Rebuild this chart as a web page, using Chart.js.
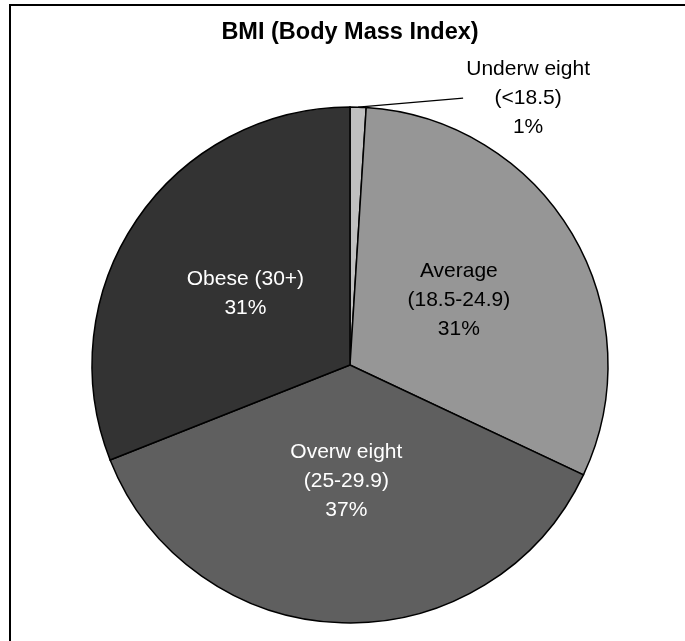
<!DOCTYPE html>
<html>
<head>
<meta charset="utf-8">
<script src="https://cdn.jsdelivr.net/npm/chart.js@4.4.1/dist/chart.umd.min.js"></script>
<style>
  html, body { margin: 0; padding: 0; background: #fff; }
  #wrap { width: 685px; height: 641px; position: relative; }
</style>
</head>
<body>
<div id="wrap"><canvas id="bmiChart" width="685" height="641"></canvas></div>
<script>
// data
const chartTitle = 'BMI (Body Mass Index)';
const categories = ['Underweight (<18.5)', 'Average (18.5-24.9)', 'Overweight (25-29.9)', 'Obese (30+)'];
const percents = [1, 31, 37, 31];
const labelNames = [['Underw eight', '(<18.5)'], ['Average', '(18.5-24.9)'], ['Overw eight', '(25-29.9)'], ['Obese (30+)']];
const sliceColors = ['#c0c0c0', '#969696', '#5f5f5f', '#333333'];
const textColors = ['#000', '#000', '#fff', '#fff'];

const FONT = '"Liberation Sans", Arial, sans-serif';

/* =========================
   FRAME + TITLE
========================= */
const framePlugin = {
  id: 'frame',
  afterDraw(chart) {
    const ctx = chart.ctx;
    ctx.save();
    ctx.strokeStyle = '#000';
    ctx.lineWidth = 2;
    ctx.strokeRect(10, 5, 800, 800);
    ctx.fillStyle = '#000';
    ctx.font = 'bold 23.5px ' + FONT;
    ctx.textAlign = 'center';
    ctx.textBaseline = 'middle';
    ctx.fillText(chartTitle, 350, 33);
    ctx.restore();
  }
};

/* =========================
   SLICE LABELS
========================= */
const radial = [1, 0.49, 0.45, 0.49];

const labelPlugin = {
  id: 'sliceLabels',
  afterDatasetsDraw(chart) {
    const ctx = chart.ctx;
    const meta = chart.getDatasetMeta(0);
    ctx.save();
    ctx.font = '21px ' + FONT;
    ctx.textAlign = 'center';
    ctx.textBaseline = 'middle';

    meta.data.forEach((arc, i) => {
      const p = arc.getProps(['x', 'y', 'startAngle', 'endAngle', 'outerRadius'], true);
      const mid = (p.startAngle + p.endAngle) / 2;
      const lines = labelNames[i].concat([percents[i] + '%']);
      const lh = 29;
      let cx, cy;

      if (i === 0) {
        // outside label with leader line
        const sx = p.x + Math.cos(mid) * p.outerRadius;
        const sy = p.y + Math.sin(mid) * p.outerRadius;
        const ex = sx + 105;
        const ey = sy - 9;
        ctx.strokeStyle = '#000';
        ctx.lineWidth = 1.5;
        ctx.beginPath();
        ctx.moveTo(sx, sy);
        ctx.lineTo(ex, ey);
        ctx.stroke();
        cx = ex + 65;
        cy = ey;
      } else {
        const r = p.outerRadius * radial[i];
        cx = p.x + Math.cos(mid) * r;
        cy = p.y + Math.sin(mid) * r;
      }

      ctx.fillStyle = textColors[i];
      const top = cy - (lines.length - 1) * lh / 2;
      lines.forEach((t, k) => ctx.fillText(t, cx, top + k * lh));
    });
    ctx.restore();
  }
};

const ctx = document.getElementById('bmiChart').getContext('2d');

new Chart(ctx, {
  type: 'pie',
  data: {
    labels: categories,
    datasets: [{
      data: percents,
      backgroundColor: sliceColors,
      borderColor: '#000',
      borderWidth: 1.5,
      borderJoinStyle: 'miter'
    }]
  },
  options: {
    responsive: false,
    animation: false,
    radius: 258,
    layout: {
      padding: { left: 85, right: 70, top: 100, bottom: 11 }
    },
    plugins: {
      legend: { display: false },
      tooltip: { enabled: false },
      title: { display: false }
    }
  },
  plugins: [labelPlugin, framePlugin]
});
</script>
</body>
</html>
